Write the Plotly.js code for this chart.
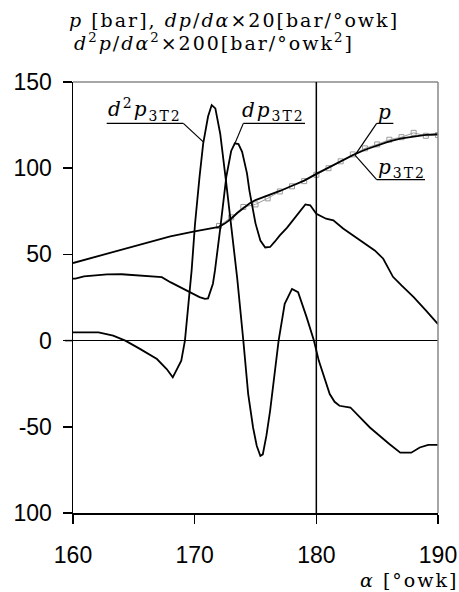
<!DOCTYPE html>
<html><head><meta charset="utf-8">
<script src="https://cdn.plot.ly/plotly-3.0.1.min.js"></script>
<style>
html,body{margin:0;padding:0;background:#fff;}
#chart{width:459px;height:592px;}
.annotation-text{letter-spacing:2px;}
</style></head><body><div id="chart"></div>
<script>
// ---- data ----
const alphaP3T2 = [160,162,164,166,168,170,171,172,172.5,173,173.5,174,174.5,175,176,177,178,179,180,181,182,183,184,185,186,187,188,189,190];
const p3T2      = [45,48.8,52.7,56.6,60.5,63.3,64.6,66,68,70.7,74,77,79.5,81.5,84,86.8,89.8,92.8,96.7,100.3,104,107.6,110.7,113.3,115.5,117.3,118.5,119.3,119.7];

const alphaP = [172,173,174,175,176,177,178,179,180,181,182,183,184,185,186,187,188,189,190];
const pMeas  = [66.5,71.5,77.5,79,82.5,86.5,89.5,92.5,96.2,100,104,108,111.5,113.8,116.5,118,120.5,118.8,119.2];

const alphaDp = [160,160.2,160.9,162.8,164,165.5,166.5,167.3,168,169.1,170.4,170.85,171.1,171.5,171.67,172.1,172.6,173,173.3,173.6,173.9,174.3,174.5,175,175.4,175.8,176.2,176.6,177,177.6,178.1,178.6,179.1,179.5,180,180.8,181.4,182.2,183,184,184.8,185.5,186.3,187,188,189,190];
const dp3T2   = [36,35.9,37.2,38.4,38.5,37.8,37.4,36.8,33.9,30,25.2,24.2,24.5,33,40.7,65,95,110,114.4,114,109.5,97,87,68,58,54,54.3,57.5,61,65.5,69.8,74.5,79,78.5,73.6,70.7,69.8,65,61,56,52.3,47.5,37,32,25.2,17.5,9.5];

const alphaD2p = [160,162.1,163.3,164.3,165.5,166.9,167.7,168.2,168.9,169.2,169.75,170.03,170.4,170.7,171.1,171.4,171.7,172.1,172.6,173,173.5,174,174.4,174.8,175.1,175.4,175.6,175.9,176.2,176.9,177.4,178,178.5,179.2,179.8,180.2,180.8,181.1,181.5,181.9,182.8,183.3,184.4,186,186.9,187.8,188.5,189.2,190];
const d2p3T2   = [4.8,4.8,2.9,0,-4.8,-10.7,-16.5,-21.3,-11.6,0,40.7,67.8,95,114.3,130,136.6,134.7,120,91,67.8,36,0,-31,-50.4,-61,-66.9,-66,-55,-40.7,0,21.3,30,28.1,13.6,0,-11.6,-25.2,-31,-35.5,-37.8,-38.8,-42.6,-50.4,-60,-65,-65,-62,-60.5,-60.5];

const yTickVals = [-100,-50,0,50,100,150];
const yTickText = ["100","-50","0","50","100","150"];
const xTickVals = [160,170,180,190];
const xTickText = ["160","170","180","190"];

// ---- chart ----
const serif = "DejaVu Serif";
const sans = "Liberation Sans";

const traces = [
  {x: alphaP, y: pMeas, mode: "lines+markers", line: {color: "#9a9a9a", width: 1},
   marker: {symbol: "square-open", size: 5, color: "#9a9a9a", line: {width: 1}}, hoverinfo: "skip"},
  {x: alphaP3T2, y: p3T2, mode: "lines", line: {color: "#000", width: 1.8}},
  {x: alphaDp, y: dp3T2, mode: "lines", line: {color: "#000", width: 1.8}},
  {x: alphaD2p, y: d2p3T2, mode: "lines", line: {color: "#000", width: 1.8}}
];

const lbl = (x, y, text) => ({x: x, y: y, xref: "x", yref: "y", text: text, showarrow: false,
  xanchor: "center", yanchor: "bottom", borderpad: 0, font: {family: serif, size: 20, color: "#000"}, yshift: -2});

const seg = (x0, y0, x1, y1, color, w) => ({type: "line", xref: "x", yref: "y", x0: x0, y0: y0, x1: x1, y1: y1,
  line: {color: color || "#000", width: w || 1.2}});

const layout = {
  width: 459, height: 592,
  margin: {l: 73, r: 21, t: 82, b: 79},
  paper_bgcolor: "#fff", plot_bgcolor: "#fff",
  showlegend: false,
  xaxis: {range: [160, 190], tickmode: "array", tickvals: xTickVals, ticktext: xTickText,
    showgrid: false, zeroline: false, showline: true, linecolor: "#000", linewidth: 1.5,
    ticks: "outside", ticklen: 9, tickwidth: 1.5, tickcolor: "#000", ticklabelstandoff: 12,
    tickfont: {family: sans, size: 23, color: "#000"}},
  yaxis: {range: [-100, 150], tickmode: "array", tickvals: yTickVals, ticktext: yTickText,
    showgrid: false, zeroline: true, zerolinecolor: "#000", zerolinewidth: 1.5,
    showline: true, linecolor: "#000", linewidth: 1.5,
    ticks: "outside", ticklen: 9, tickwidth: 1.5, tickcolor: "#000", ticklabelstandoff: 6,
    tickfont: {family: sans, size: 23, color: "#000"}},
  shapes: [
    {type: "line", xref: "paper", yref: "paper", x0: 0, x1: 1, y0: 1, y1: 1, line: {color: "#888", width: 1.5}},
    {type: "line", xref: "paper", yref: "paper", x0: 1, x1: 1, y0: 0, y1: 1, line: {color: "#888", width: 1.5}},
    {type: "line", xref: "x", yref: "paper", x0: 180, x1: 180, y0: 0, y1: 1, line: {color: "#000", width: 1.5}},
    {type: "line", xref: "paper", yref: "y", x0: -0.022, x1: 0, y0: 0, y1: 0, line: {color: "#000", width: 1.5}},
    seg(162.77, 126.0, 169.07, 126.0), seg(169.07, 126.0, 170.71, 115.3),
    seg(174.0, 126.0, 179.07, 126.0), seg(174.0, 126.0, 173.31, 114.4),
    seg(184.96, 126.0, 186.33, 126.0), seg(184.96, 126.0, 183.18, 107.6),
    seg(184.96, 93.4, 188.93, 93.4), seg(184.96, 93.4, 183.18, 107.6)
  ],
  annotations: [
    {xref: "paper", yref: "paper", x: 0.441, y: 1.172, xanchor: "center", yanchor: "top", showarrow: false, borderpad: 0,
     text: "<i>p</i> [bar], <i>dp</i>/<i>dα</i>×20[bar/°owk]", font: {family: serif, size: 19, color: "#000"}},
    {xref: "paper", yref: "paper", x: 0.385, y: 1.124, xanchor: "center", yanchor: "top", showarrow: false, borderpad: 0,
     text: "<i>d</i><sup>2</sup><i>p</i>/<i>dα</i><sup>2</sup>×200[bar/°owk<sup>2</sup>]", font: {family: serif, size: 19, color: "#000"}},
    {xref: "paper", yref: "paper", x: 0.92, y: -0.183, xanchor: "center", yanchor: "bottom", showarrow: false, borderpad: 0,
     text: "<i>α</i> [°owk]", font: {family: serif, size: 19, color: "#000"}},
    lbl(165.92, 126.0, "<i>d</i><sup>2</sup><i>p</i><sub>3T2</sub>"),
    lbl(176.52, 126.0, "<i>dp</i><sub>3T2</sub>"),
    lbl(185.68, 126.0, "<i>p</i>"),
    lbl(187.04, 93.4, "<i>p</i><sub>3T2</sub>")
  ]
};

Plotly.newPlot("chart", traces, layout, {staticPlot: true, displayModeBar: false});
</script></body></html>
